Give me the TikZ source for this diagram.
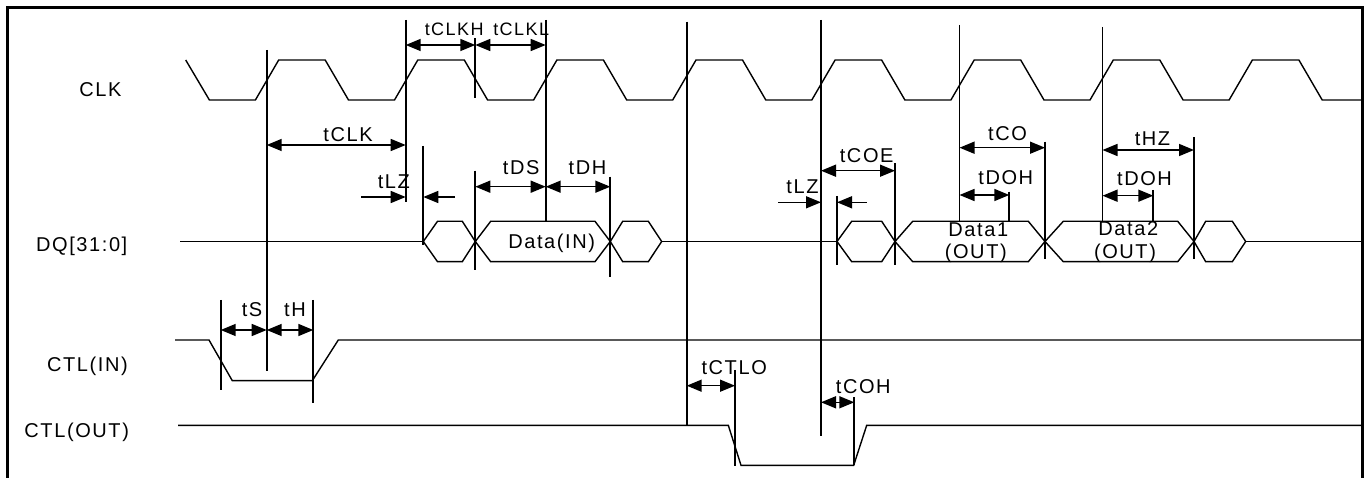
\documentclass[tikz,border=0pt]{standalone}
\usepackage{fontspec}
\setmainfont{Liberation Sans}[LetterSpace=8]
\usetikzlibrary{arrows.meta}
\newcommand{\hexw}[4]{\draw[wave] (#1,241.5) -- (#2,221.3) -- (#3,221.3) -- (#4,241.5) -- (#3,261.7) -- (#2,261.7) -- cycle;}
\begin{document}
\begin{tikzpicture}[x=1pt,y=-1pt,
  wave/.style={line width=1.4pt, line join=miter},
  vline/.style={line width=1.9pt},
  dim/.style={line width=1.5pt, >={Triangle[length=15pt,width=12pt]}, <->},
  sarrow/.style={line width=1.5pt, >={Triangle[length=15pt,width=12pt]}, ->},
  lab/.style={anchor=base, inner sep=0pt, font=\fontsize{20}{24}\selectfont},
  labs/.style={anchor=base, inner sep=0pt, font=\fontsize{18}{22}\selectfont}]
\useasboundingbox (0,0) rectangle (1369,478);
% frame
\draw[line width=3pt] (7.3,480) -- (7.3,7.3) -- (1362,7.3) -- (1362,480);
% signal names
\node[lab] (lclk) at (100.5,96.7) {CLK};
\node[lab] (ldq) at (81.7,251.7) {DQ[31:0]};
\node[lab] (lctlin) at (87.5,371.7) {CTL(IN)};
\node[lab] (lctlout) at (76.7,437.3) {CTL(OUT)};
% CLK
\draw[wave] (185.7,60) -- (209.4,100)
  \foreach \k in {0,...,7} { -- ({255.4+139.1*\k},100) -- ({278.7+139.1*\k},60) -- ({325.2+139.1*\k},60) -- ({348.5+139.1*\k},100) }
  -- (1362,100);
% DQ
\draw[wave] (180,241.5) -- (423.3,241.5);
\hexw{423.3}{437.5}{462.3}{475.3}
\hexw{475.3}{490.7}{595}{610.3}
\hexw{610.3}{622.7}{648.3}{661.7}
\draw[wave] (661.7,241.5) -- (837,241.5);
\hexw{837}{851.7}{881.7}{895}
\hexw{895}{912.7}{1028.3}{1045}
\hexw{1045}{1063.3}{1177.7}{1194}
\hexw{1194}{1205.7}{1232.3}{1245.7}
\draw[wave] (1245.7,241.5) -- (1362,241.5);
% CTL(IN)
\draw[wave] (175,340) -- (209,340) -- (232.3,380.7) -- (312.3,380.7) -- (338.3,340) -- (1362,340);
% CTL(OUT)
\draw[wave] (178,425.3) -- (728.3,425.3) -- (741,465.3) -- (853.7,465.3) -- (866.7,425.3) -- (1362,425.3);
% reference lines
\draw[vline] (266.7,50) -- (266.7,371);
\draw[vline] (405.7,20) -- (405.7,202);
\draw[vline] (423.3,146) -- (423.3,245);
\draw[vline] (475.3,38.3) -- (475.3,98.3);
\draw[vline] (475.3,170.7) -- (475.3,270);
\draw[vline] (545.7,20) -- (545.7,221.3);
\draw[vline] (610.3,176.7) -- (610.3,277.3);
\draw[vline] (686.7,21.7) -- (686.7,425.3);
\draw[vline] (821,20) -- (821,435.7);
\draw[vline] (837,196) -- (837,265);
\draw[vline] (895,163.3) -- (895,265);
\draw[vline] (959.5,25) -- (959.5,221.3);
\draw[vline] (1009.3,191.7) -- (1009.3,221.3);
\draw[vline] (1045,141.7) -- (1045,259.3);
\draw[vline] (1102.5,27) -- (1102.5,221.3);
\draw[vline] (1153.3,190) -- (1153.3,221.3);
\draw[vline] (1194,137.3) -- (1194,259.3);
\draw[vline] (735,370) -- (735,466);
\draw[vline] (854.3,397.3) -- (854.3,465.3);
\draw[vline] (220.7,300) -- (220.7,390);
\draw[vline] (313.3,300) -- (313.3,402.7);
% dimension arrows
\draw[dim] (266.7,145) -- (405.7,145);
\draw[dim] (405.7,45) -- (475.3,45);
\draw[dim] (475.3,45) -- (545.7,45);
\draw[sarrow] (361,197) -- (405.7,197);
\draw[sarrow] (455,197) -- (423.3,197);
\draw[dim] (475.3,186.7) -- (545.7,186.7);
\draw[dim] (545.7,186.7) -- (610.3,186.7);
\draw[sarrow] (778.3,202.3) -- (821,202.3);
\draw[sarrow] (866.7,202.3) -- (837,202.3);
\draw[dim] (821,170.7) -- (895,170.7);
\draw[dim] (959.5,147.7) -- (1045,147.7);
\draw[dim] (959.5,195) -- (1009.3,195);
\draw[dim] (1102.5,150) -- (1194,150);
\draw[dim] (1102.5,195.7) -- (1153.3,195.7);
\draw[dim] (220.7,330) -- (266.7,330);
\draw[dim] (266.7,330) -- (313.3,330);
\draw[dim] (686.7,385.7) -- (735,385.7);
\draw[dim] (821,402.3) -- (854.3,402.3);
% timing labels
\node[lab] (ttclk) at (348,141.7) {tCLK};
\node[labs] (ttclkh) at (454.2,36) {tCLKH};
\node[labs] (ttclkl) at (521.2,36) {tCLKL};
\node[lab] (ttlz1) at (393.8,188.3) {tLZ};
\node[lab] (ttds) at (521.2,175) {tDS};
\node[lab] (ttdh) at (587.5,175) {tDH};
\node[lab] (tdin) at (551.7,248.3) {Data(IN)};
\node[lab] (ttlz2) at (802.5,193.3) {tLZ};
\node[lab] (ttcoe) at (866.7,162.3) {tCOE};
\node[lab] (ttco) at (1007.5,140.7) {tCO};
\node[lab] (ttdoh1) at (1005.8,185) {tDOH};
\node[lab] (td1) at (978.3,236.7) {Data1};
\node[lab] (to1) at (975.8,258.3) {(OUT)};
\node[lab] (tthz) at (1152.5,145.7) {tHZ};
\node[lab] (ttdoh2) at (1144.5,186) {tDOH};
\node[lab] (td2) at (1128.3,235.7) {Data2};
\node[lab] (to2) at (1125,258.3) {(OUT)};
\node[lab] (tts) at (252,316.7) {tS};
\node[lab] (tth) at (295,316.7) {tH};
\node[lab] (ttctlo) at (734.2,375) {tCTLO};
\node[lab] (ttcoh) at (863.3,393.3) {tCOH};
\end{tikzpicture}
\end{document}
